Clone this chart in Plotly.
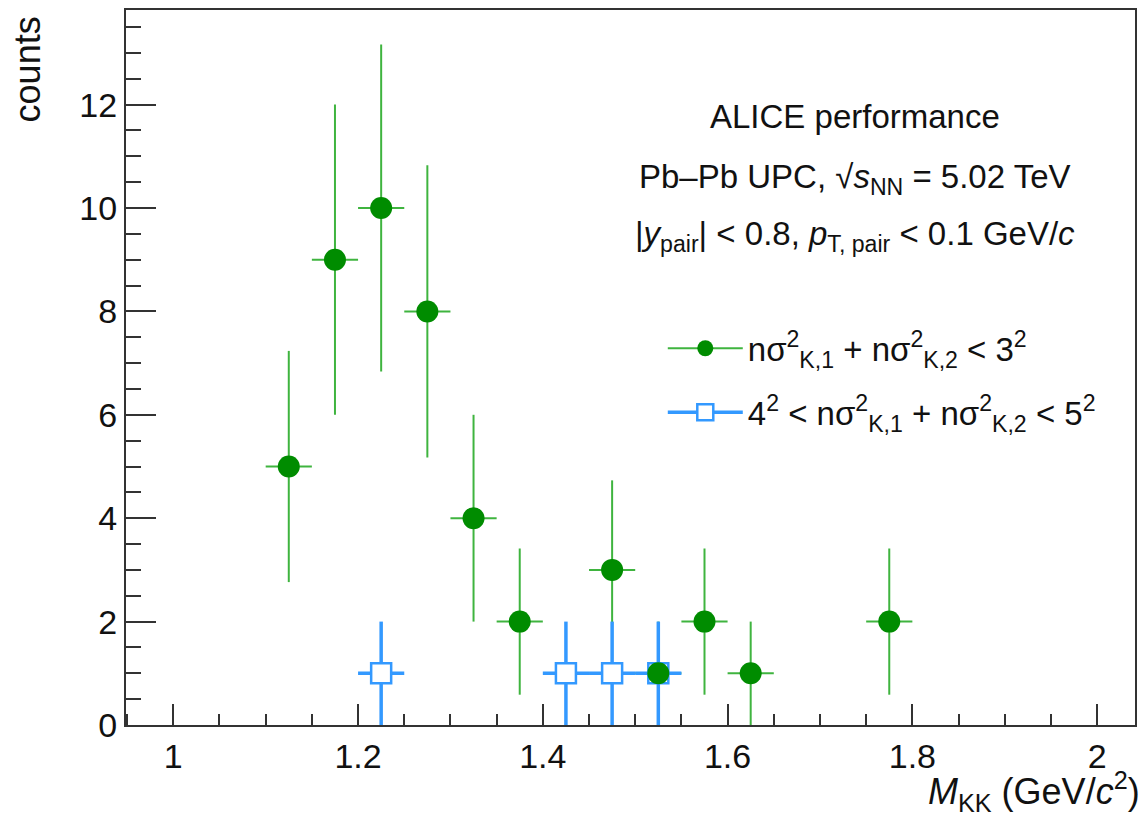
import plotly.graph_objects as go

# ---- data ----
green_x = [1.125, 1.175, 1.225, 1.275, 1.325, 1.375, 1.475, 1.525, 1.575, 1.625, 1.775]
green_y = [5, 9, 10, 8, 4, 2, 3, 1, 2, 1, 2]
green_err = [2.236, 3.0, 3.162, 2.828, 2.0, 1.414, 1.732, 1.0, 1.414, 1.0, 1.414]
green_xerr = [0.025] * len(green_x)

blue_x = [1.225, 1.425, 1.475, 1.525]
blue_y = [1, 1, 1, 1]
blue_err = [1.0, 1.0, 1.0, 1.0]
blue_xerr = [0.025] * len(blue_x)

green_name = "nσ<sup>2</sup><sub>K,1</sub> + nσ<sup>2</sup><sub>K,2</sub> < 3<sup>2</sup>"
blue_name = "4<sup>2</sup> < nσ<sup>2</sup><sub>K,1</sub> + nσ<sup>2</sup><sub>K,2</sub> < 5<sup>2</sup>"

GREEN_M = "#008c00"
GREEN_L = "#3fb43f"
BLUE = "#3399ff"
FONT = "Liberation Sans, Arial, Helvetica, sans-serif"

fig = go.Figure()

# error bars (drawn first)
fig.add_trace(go.Scatter(
    x=green_x, y=green_y, mode="markers", marker=dict(size=1, opacity=0),
    error_y=dict(type="data", array=green_err, color=GREEN_L, thickness=2, width=0),
    error_x=dict(type="data", array=green_xerr, color=GREEN_L, thickness=2, width=0),
    showlegend=False, hoverinfo="skip"))
fig.add_trace(go.Scatter(
    x=blue_x, y=blue_y, mode="markers", marker=dict(size=1, opacity=0),
    error_y=dict(type="data", array=blue_err, color=BLUE, thickness=3.5, width=0),
    error_x=dict(type="data", array=blue_xerr, color=BLUE, thickness=3.5, width=0),
    showlegend=False, hoverinfo="skip"))
# markers
fig.add_trace(go.Scatter(
    x=blue_x, y=blue_y, mode="markers",
    marker=dict(symbol="square", size=20, color="white", line=dict(color=BLUE, width=2.5)),
    showlegend=False))
fig.add_trace(go.Scatter(
    x=green_x, y=green_y, mode="markers",
    marker=dict(symbol="circle", size=22, color=GREEN_M, line=dict(width=0)),
    showlegend=False))

# legend entries
fig.add_trace(go.Scatter(
    x=[None], y=[None], mode="lines+markers", name=green_name, legendgroup="g",
    line=dict(color=GREEN_L, width=2),
    marker=dict(symbol="circle", size=22, color=GREEN_M, line=dict(width=0))))
fig.add_trace(go.Scatter(
    x=[None], y=[None], mode="lines+markers", name=blue_name, legendgroup="b",
    line=dict(color=BLUE, width=3.5),
    marker=dict(symbol="square", size=20, color="white", line=dict(color=BLUE, width=2.5))))

axis_common = dict(
    showline=True, linecolor="#333333", linewidth=2, mirror=True,
    ticks="inside", tickcolor="#333333", tickwidth=2,
    showgrid=False, zeroline=False,
    tickfont=dict(family=FONT, size=34, color="#111111"),
)

fig.update_xaxes(range=[0.9488, 2.041], dtick=0.2, tick0=1.0, ticklen=21,
                 minor=dict(dtick=0.05, ticklen=11, ticks="inside", tickcolor="#333333", tickwidth=2),
                 tickformat="~g", **axis_common)
fig.update_yaxes(range=[0, 13.83], dtick=2, tick0=0, ticklen=30,
                 minor=dict(dtick=0.5, ticklen=15, ticks="inside", tickcolor="#333333", tickwidth=2),
                 **axis_common)

ANN = 33
fig.update_layout(
    width=1145, height=818,
    margin=dict(l=126, r=10, t=8, b=93),
    plot_bgcolor="white", paper_bgcolor="white",
    font=dict(family=FONT, color="#111111"),
    legend=dict(x=0.532, y=0.566, xanchor="left", yanchor="top",
                font=dict(family=FONT, size=33, color="#111111"),
                bgcolor="rgba(0,0,0,0)", itemwidth=75, tracegroupgap=18,
                traceorder="grouped"),
    annotations=[
        dict(text="ALICE performance", x=0.7225, y=0.851, xref="paper", yref="paper",
             showarrow=False, font=dict(family=FONT, size=ANN, color="#111111"),
             xanchor="center", yanchor="middle"),
        dict(text="Pb–Pb UPC, √<i>s</i><sub>NN</sub> = 5.02 TeV", x=0.7225, y=0.763,
             xref="paper", yref="paper", showarrow=False,
             font=dict(family=FONT, size=ANN, color="#111111"), xanchor="center", yanchor="middle"),
        dict(text="|<i>y</i><sub>pair</sub>| < 0.8, <i>p</i><sub>T, pair</sub> < 0.1 GeV/<i>c</i>",
             x=0.7225, y=0.684, xref="paper", yref="paper", showarrow=False,
             font=dict(family=FONT, size=ANN, color="#111111"), xanchor="center", yanchor="middle"),
        dict(text="<i>M</i><sub>KK</sub> (GeV/<i>c</i><sup>2</sup>)", x=1.007, y=-0.093,
             xref="paper", yref="paper", showarrow=False,
             font=dict(family=FONT, size=36, color="#111111"), xanchor="right", yanchor="middle"),
        dict(text="counts", x=-0.098, y=0.994, xref="paper", yref="paper", showarrow=False,
             textangle=-90, font=dict(family=FONT, size=36, color="#111111"),
             xanchor="center", yanchor="top"),
    ],
)

fig.write_html("out.html")
